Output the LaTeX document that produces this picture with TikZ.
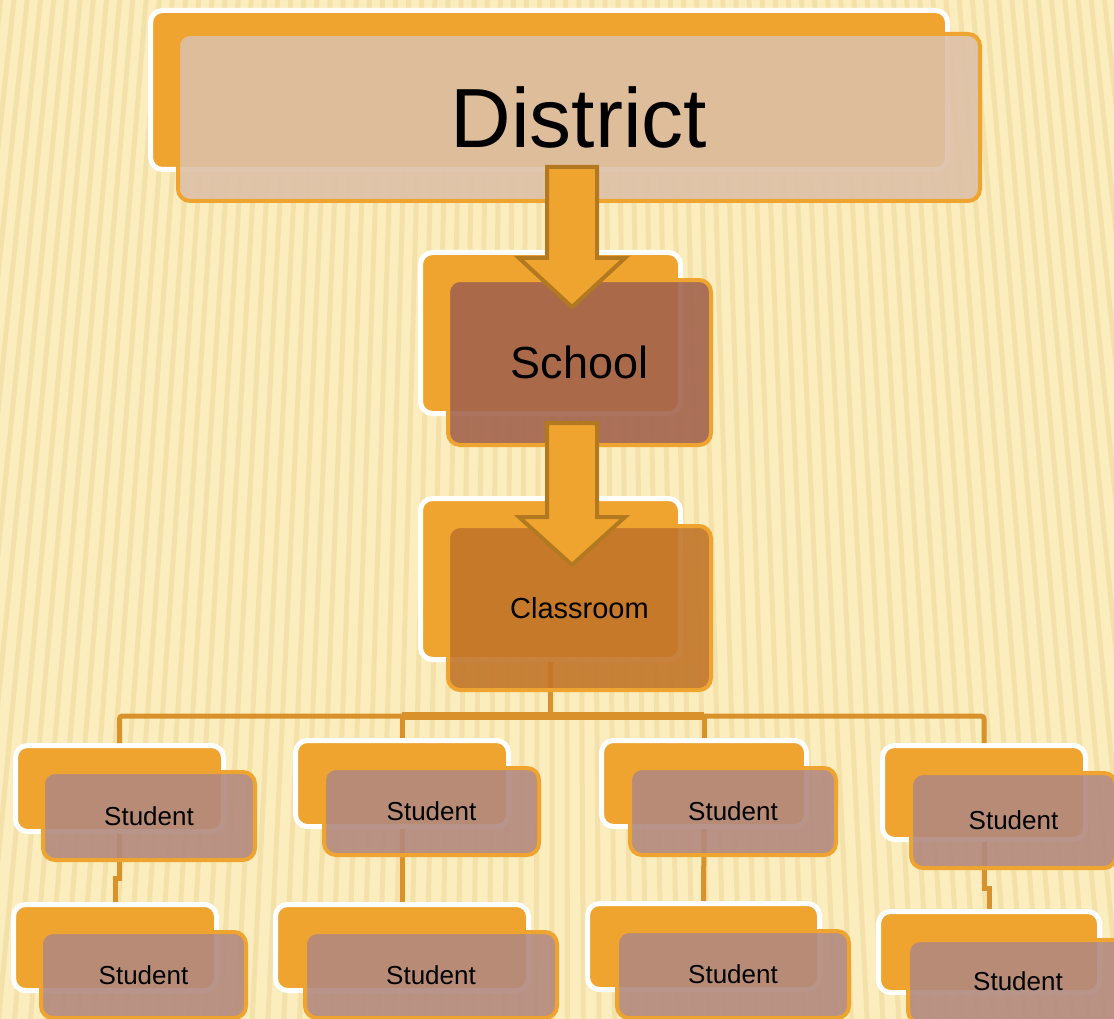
\documentclass[tikz,border=0pt]{standalone}
\usepackage{fontspec}
\setmainfont{Liberation Sans}
\usetikzlibrary{calc}

\definecolor{bgpaper}{RGB}{251,237,190}
\definecolor{bgstripe}{RGB}{230,204,130}
\definecolor{boxorange}{RGB}{239,164,47}
\definecolor{linkorange}{RGB}{217,145,43}
\definecolor{arrowedge}{RGB}{178,121,32}
\definecolor{districtfill}{RGB}{221,192,167}
\definecolor{schoolfill}{RGB}{163,100,78}
\definecolor{classfill}{RGB}{194,117,41}
\definecolor{studentfill}{RGB}{178,137,126}

\tikzset{
  backbox/.style={draw=white, line width=5pt, fill=boxorange, rounded corners=12pt, inner sep=0pt},
  frontbox/.style={draw=boxorange, line width=4pt, rounded corners=12pt, fill opacity=0.9, text opacity=1, inner sep=0pt},
  studentbox/.style={frontbox, fill=studentfill, font=\fontsize{26}{30}\selectfont},
  link/.style={draw=linkorange, line width=5pt},
  bigarrow/.style={draw=arrowedge, fill=boxorange, line width=4pt, line join=miter},
  stripe/.style={draw=bgstripe, line width=5pt, opacity=0.35},
}

\begin{document}
\begin{tikzpicture}[x=1pt,y=-1pt]
    \useasboundingbox (0,0) rectangle (1114,1019);
    % striped paper
    \fill[bgpaper] (0,0) rectangle (1114,1019);
    \begin{scope}
        \clip (0,0) rectangle (1114,1019);
        \foreach \a in {-7,-6.85,...,7}
            \draw[stripe] (557,-5000) -- ++(90+\a:6300);
    \end{scope}

    % back cards
    \node[backbox, minimum width=797pt, minimum height=159pt] (DB) at (549,90) {};
    \node[backbox, minimum width=260pt, minimum height=161pt] (ScB) at (550.5,333) {};
    \node[backbox, minimum width=260pt, minimum height=161pt] (ClB) at (550.5,579) {};
    \node[backbox, minimum width=208pt, minimum height=86pt] (S1B) at (119.5,788.5) {};
    \node[backbox, minimum width=213pt, minimum height=86pt] (S2B) at (402,783.5) {};
    \node[backbox, minimum width=205pt, minimum height=86pt] (S3B) at (704,783.5) {};
    \node[backbox, minimum width=203pt, minimum height=94pt] (S4B) at (984,792.5) {};
    \node[backbox, minimum width=203pt, minimum height=86pt] (B1B) at (115,947.5) {};
    \node[backbox, minimum width=253pt, minimum height=86pt] (B2B) at (402,947.5) {};
    \node[backbox, minimum width=232pt, minimum height=86pt] (B3B) at (703.5,946.5) {};
    \node[backbox, minimum width=221pt, minimum height=81pt] (B4B) at (989,952) {};

    % tree lines
    \coordinate (bus) at (550,716);
    \draw[link] (ClB.south) -- (ClB.south |- bus);
    \draw[link, rounded corners=3pt] (S1B.north) |- (bus);
    \draw[link] (S2B.north) |- (bus);
    \draw[link] (S3B.north) |- (bus);
    \draw[link, rounded corners=3pt] (S4B.north) |- (bus);
    \draw[link, line width=8pt] (S2B.north |- bus) -- (S3B.north |- bus);
    \draw[link] (S1B.south) -- ++(0,44) -| (B1B.north);
    \draw[link] (S2B.south) -- (B2B.north);
    \draw[link] (S3B.south) -- (B3B.north);
    \draw[link] (S4B.south) -- ++(0,46) -| (B4B.north);

    % front cards
    \node[frontbox, fill=districtfill, minimum width=802pt, minimum height=167pt, font=\fontsize{84}{90}\selectfont] (D) at (579,117.5) {District};
    \node[frontbox, fill=schoolfill, minimum width=263pt, minimum height=165pt, font=\fontsize{45}{50}\selectfont] (Sc) at (579.5,362.5) {School};
    \node[frontbox, fill=classfill, minimum width=263pt, minimum height=164pt, font=\fontsize{29}{34}\selectfont] (Cl) at (579.5,608) {Classroom};
    \node[studentbox, minimum width=212pt, minimum height=88pt] (S1) at (149,816) {Student};
    \node[studentbox, minimum width=215pt, minimum height=87pt] (S2) at (431.5,811.5) {Student};
    \node[studentbox, minimum width=206pt, minimum height=87pt] (S3) at (733,811.5) {Student};
    \node[studentbox, minimum width=205pt, minimum height=95pt] (S4) at (1013.5,820.5) {Student};
    \node[studentbox, minimum width=205pt, minimum height=86pt] (B1) at (143.5,975) {Student};
    \node[studentbox, minimum width=252pt, minimum height=86pt] (B2) at (431,975) {Student};
    \node[studentbox, minimum width=232pt, minimum height=87pt] (B3) at (733,974.5) {Student};
    \node[studentbox, minimum width=220pt, minimum height=83pt] (B4) at (1018,981.5) {Student};

    % block arrows
    \coordinate (a1) at (572,167);
    \coordinate (a2) at (572,423);
    \draw[bigarrow] (a1) ++(-25,0) -- ++(50,0) -- ++(0,91) -- ++(28,0) -- ++(-53,49) -- ++(-53,-49) -- ++(28,0) -- cycle;
    \draw[bigarrow] (a2) ++(-25,0) -- ++(50,0) -- ++(0,94) -- ++(28,0) -- ++(-53,48) -- ++(-53,-48) -- ++(28,0) -- cycle;
\end{tikzpicture}
\end{document}
